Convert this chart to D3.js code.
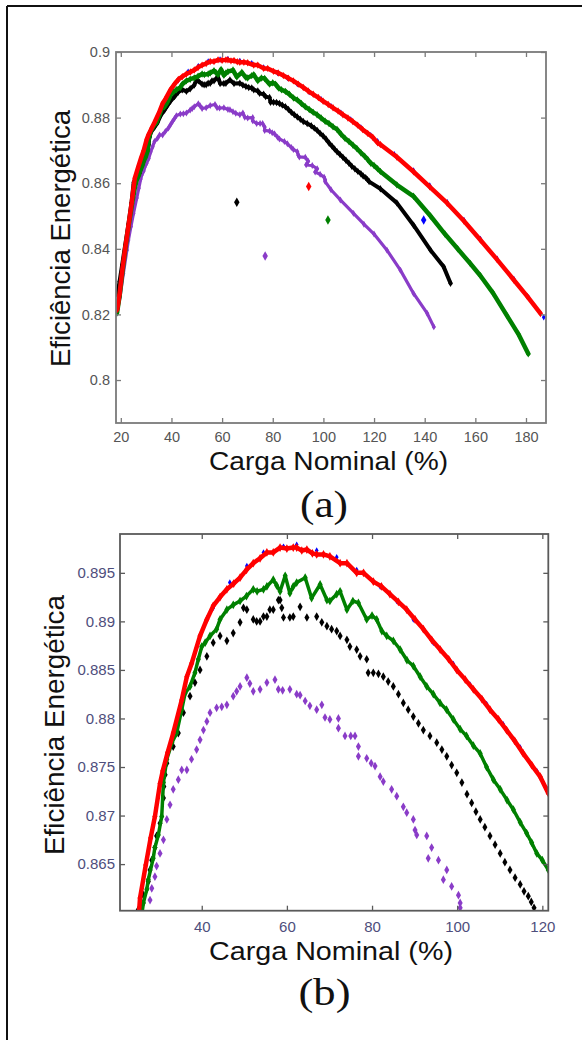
<!DOCTYPE html>
<html>
<head>
<meta charset="utf-8">
<script src="https://cdnjs.cloudflare.com/ajax/libs/d3/7.8.5/d3.min.js"></script>
<style>
  html, body { margin: 0; padding: 0; background: #fff; }
  svg { display: block; }
</style>
</head>
<body>
<script>
// load (% of nominal) and efficiency; panel (b) is a zoom of (a)
var blueData = [
  [18.6, 0.8218], [25.0, 0.8595], [31.6, 0.8752], [38.8, 0.8873], [42.7, 0.8914], [46.6, 0.8940],
  [50.6, 0.8957], [54.5, 0.8971], [59.2, 0.8977], [62.3, 0.8979], [67.0, 0.8973], [71.7, 0.8966],
  [76.4, 0.8953], [81.9, 0.8936], [85.8, 0.8921], [89.7, 0.8902], [94.4, 0.8878], [99.1, 0.8856],
  [103.0, 0.8835], [106.9, 0.8815], [110.8, 0.8794], [114.8, 0.8770], [118.7, 0.8746], [121.4, 0.8728],
  [128.0, 0.8688], [135.6, 0.8639], [142.0, 0.8593], [148.9, 0.8542], [155.5, 0.8488], [162.0, 0.8430],
  [168.6, 0.8370], [175.2, 0.8308], [181.0, 0.8252], [187.0, 0.8191]
];
var redData = [
  [18.6, 0.8215], [19.5, 0.8262], [20.5, 0.8330], [21.7, 0.8400], [23.0, 0.8470], [24.2, 0.8535],
  [25.5, 0.8615], [26.85, 0.8649], [28.0, 0.8677], [29.0, 0.8699], [30.2, 0.8733], [30.84, 0.8746],
  [32.0, 0.8765], [33.3, 0.8785], [35.3, 0.8819], [36.5, 0.8843], [37.65, 0.8857], [39.6, 0.8885],
  [41.2, 0.8902], [42.7, 0.8916], [44.3, 0.8925], [45.9, 0.8933], [47.5, 0.8939], [49.0, 0.8945],
  [50.5, 0.8953], [52.1, 0.8960], [53.7, 0.8965], [55.3, 0.8971], [56.8, 0.8971], [58.4, 0.8976],
  [60.0, 0.8975], [61.5, 0.8976], [62.3, 0.8976], [63.5, 0.8973], [64.7, 0.8974], [66.0, 0.8970],
  [67.0, 0.8969], [68.6, 0.8969], [70.1, 0.8967], [72.5, 0.8960], [74.1, 0.8960], [76.4, 0.8950],
  [78.0, 0.8950], [80.3, 0.8941], [82.2, 0.8936], [84.2, 0.8928], [86.2, 0.8920], [88.15, 0.8912],
  [90.1, 0.8902], [92.05, 0.8892], [94.0, 0.8881], [96.0, 0.8871], [98.0, 0.8861], [99.9, 0.8850],
  [101.9, 0.8840], [103.8, 0.8830], [105.8, 0.8820], [107.7, 0.8809], [109.7, 0.8799], [111.6, 0.8788],
  [113.5, 0.8777], [115.5, 0.8764], [117.5, 0.8752], [119.5, 0.8740], [121.4, 0.8723], [122.5, 0.8718],
  [129.0, 0.8680], [135.6, 0.8635], [142.0, 0.8589], [148.9, 0.8539], [155.5, 0.8485], [162.0, 0.8427],
  [168.6, 0.8367], [175.2, 0.8305], [180.5, 0.8255], [185.7, 0.8203]
];
var greenData = [
  [18.5, 0.8205], [19.5, 0.8255], [20.5, 0.8320], [21.7, 0.8395], [23.0, 0.8465], [24.3, 0.8530],
  [25.5, 0.8585], [26.3, 0.8610], [27.1, 0.8624], [27.45, 0.8634], [28.6, 0.8656], [29.0, 0.8667],
  [29.8, 0.8680], [30.6, 0.8699], [31.0, 0.8734], [31.8, 0.8758], [33.0, 0.8775], [34.1, 0.8785],
  [35.3, 0.8809], [36.1, 0.8826], [37.25, 0.8833], [38.4, 0.8847], [39.2, 0.8861], [40.0, 0.8874],
  [40.8, 0.8878], [41.95, 0.8885], [43.5, 0.8892], [44.3, 0.8902], [45.9, 0.8912], [47.4, 0.8917],
  [49.0, 0.8921], [50.5, 0.8926], [52.1, 0.8933], [53.0, 0.8931], [54.5, 0.8933], [55.3, 0.8936],
  [56.8, 0.8943], [57.6, 0.8937], [58.4, 0.8931], [59.6, 0.8947], [60.7, 0.8929], [61.5, 0.8936],
  [62.3, 0.8940], [64.3, 0.8945], [65.8, 0.8924], [67.8, 0.8938], [69.4, 0.8922], [70.1, 0.8921],
  [71.7, 0.8928], [72.5, 0.8931], [74.1, 0.8912], [75.5, 0.8921], [76.8, 0.8919], [78.75, 0.8902],
  [80.0, 0.8906], [81.1, 0.8902], [82.3, 0.8890], [83.45, 0.8885], [85.0, 0.8880], [86.6, 0.8871],
  [88.2, 0.8860], [89.7, 0.8854], [91.3, 0.8843], [92.85, 0.8833], [94.4, 0.8825], [95.97, 0.8816],
  [97.5, 0.8809], [99.1, 0.8799], [100.7, 0.8789], [102.2, 0.8782], [103.8, 0.8772], [105.4, 0.8764],
  [106.9, 0.8750], [108.5, 0.8737], [110.1, 0.8727], [111.7, 0.8716], [113.2, 0.8706], [114.8, 0.8693],
  [116.3, 0.8682], [117.5, 0.8672], [118.7, 0.8661], [120.0, 0.8654], [121.4, 0.8644], [122.5, 0.8636],
  [129.0, 0.8595], [135.6, 0.8560], [142.3, 0.8500], [148.0, 0.8445], [153.0, 0.8400], [158.0, 0.8355],
  [162.0, 0.8318], [167.0, 0.8265], [172.6, 0.8195], [177.0, 0.8140], [180.9, 0.8080]
];
var blackData = [
  [18.7, 0.8260], [19.5, 0.8300], [20.5, 0.8350], [21.7, 0.8410], [23.0, 0.8475], [24.2, 0.8540],
  [25.1, 0.8603], [25.9, 0.8610], [26.3, 0.8618], [27.45, 0.8632], [27.85, 0.8644], [28.26, 0.8654],
  [29.0, 0.8667], [29.4, 0.8679], [30.2, 0.8692], [31.0, 0.8718], [31.1, 0.8730], [31.4, 0.8742],
  [31.8, 0.8754], [33.3, 0.8771], [34.5, 0.8785], [35.7, 0.8806], [37.25, 0.8823], [38.4, 0.8837],
  [39.6, 0.8850], [41.2, 0.8864], [42.7, 0.8878], [44.3, 0.8885], [45.9, 0.8880], [47.4, 0.8888],
  [49.0, 0.8899], [49.8, 0.8914], [50.6, 0.8912], [52.1, 0.8902], [52.9, 0.8900], [53.7, 0.8900],
  [54.5, 0.8905], [55.3, 0.8905], [56.0, 0.8912], [56.8, 0.8912], [58.0, 0.8922], [58.4, 0.8922],
  [58.8, 0.8914], [59.2, 0.8904], [60.7, 0.8904], [61.5, 0.8905], [63.1, 0.8915], [64.7, 0.8904],
  [67.0, 0.8905], [68.2, 0.8899], [69.4, 0.8895], [70.5, 0.8892], [71.7, 0.8890], [72.5, 0.8885],
  [74.1, 0.8881], [74.8, 0.8874], [76.4, 0.8871], [77.2, 0.8864], [78.75, 0.8861], [79.1, 0.8847],
  [80.3, 0.8847], [81.5, 0.8846], [82.65, 0.8843], [83.8, 0.8838], [85.0, 0.8833], [86.2, 0.8825],
  [87.35, 0.8816], [88.5, 0.8809], [89.7, 0.8802], [90.9, 0.8795], [92.05, 0.8788], [93.6, 0.8782],
  [95.2, 0.8775], [96.4, 0.8768], [97.55, 0.8761], [98.7, 0.8752], [99.9, 0.8744], [101.1, 0.8734],
  [102.3, 0.8722], [103.4, 0.8713], [104.4, 0.8704], [105.4, 0.8696], [106.5, 0.8688], [107.7, 0.8679],
  [108.9, 0.8670], [110.1, 0.8661], [111.2, 0.8652], [112.4, 0.8644], [113.6, 0.8636], [114.8, 0.8629],
  [115.7, 0.8622], [116.7, 0.8617], [117.4, 0.8611], [118.05, 0.8605], [122.5, 0.8583], [129.0, 0.8540],
  [135.6, 0.8472], [142.3, 0.8396], [147.5, 0.8345], [150.2, 0.8295]
];
var purpleData = [
  [18.4, 0.8203], [19.7, 0.8254], [21.0, 0.8325], [22.4, 0.8396], [23.0, 0.8427], [24.0, 0.8468],
  [25.0, 0.8508], [26.3, 0.8555], [27.1, 0.8585], [27.85, 0.8613], [28.26, 0.8625], [29.0, 0.8637],
  [29.4, 0.8648], [30.2, 0.8661], [31.0, 0.8675], [31.8, 0.8696], [32.55, 0.8711], [33.3, 0.8727],
  [34.5, 0.8737], [35.3, 0.8747], [36.5, 0.8747], [37.6, 0.8758], [38.8, 0.8768], [39.6, 0.8778],
  [40.4, 0.8788], [41.2, 0.8797], [41.95, 0.8806], [43.5, 0.8811], [44.7, 0.8812], [45.9, 0.8814],
  [47.4, 0.8823], [48.2, 0.8828], [49.0, 0.8833], [50.6, 0.8842], [51.3, 0.8836], [52.1, 0.8828],
  [53.7, 0.8830], [55.3, 0.8837], [57.2, 0.8840], [58.0, 0.8830], [59.0, 0.8829], [60.7, 0.8830],
  [62.3, 0.8825], [63.1, 0.8824], [64.3, 0.8818], [65.4, 0.8813], [67.0, 0.8809], [68.2, 0.8814],
  [68.95, 0.8801], [70.1, 0.8799], [72.1, 0.8800], [72.1, 0.8790], [73.65, 0.8782], [75.0, 0.8782],
  [76.0, 0.8782], [76.8, 0.8771], [76.8, 0.8761], [78.75, 0.8759], [79.8, 0.8754], [80.7, 0.8751],
  [81.9, 0.8740], [82.65, 0.8735], [84.6, 0.8727], [85.8, 0.8720], [87.35, 0.8709], [88.15, 0.8703],
  [89.7, 0.8696], [90.1, 0.8685], [90.5, 0.8680], [92.85, 0.8679], [94.0, 0.8667], [93.2, 0.8656],
  [95.6, 0.8654], [97.55, 0.8644], [96.75, 0.8634], [98.7, 0.8627], [100.3, 0.8618], [100.7, 0.8610],
  [100.7, 0.8605], [103.0, 0.8580], [106.7, 0.8549], [111.9, 0.8508], [116.0, 0.8475], [120.0, 0.8445],
  [125.1, 0.8396], [130.4, 0.8335], [135.6, 0.8264], [141.0, 0.8203], [143.6, 0.8162]
];
// stray single measurements in panel (a)
var strayPoints = [
  {series: "black", x: 65.8, y: 0.8542},
  {series: "red", x: 94.2, y: 0.8590},
  {series: "purple", x: 77.0, y: 0.8378},
  {series: "green", x: 101.8, y: 0.8488},
  {series: "blue", x: 139.6, y: 0.8488}
];

var xTicksA = [20, 40, 60, 80, 100, 120, 140, 160, 180];
var yTicksA = [0.80, 0.82, 0.84, 0.86, 0.88, 0.90];
var xTicksB = [40, 60, 80, 100, 120];
var yTicksB = [0.865, 0.870, 0.875, 0.880, 0.885, 0.890, 0.895];

var xTitle = "Carga Nominal (%)";
var yTitle = "Eficiência Energética";

var colors = {blue: "#0000ff", red: "#ff0000", green: "#008000", black: "#000000", purple: "#8a3cc8"};
var seriesList = [
  {name: "blue", data: blueData},
  {name: "purple", data: purpleData},
  {name: "black", data: blackData},
  {name: "green", data: greenData},
  {name: "red", data: redData}
];

var W = 582, H = 1040;
var svg = d3.select("body").append("svg").attr("width", W).attr("height", H);

// outer frame (open on the right and bottom in the scan)
svg.append("line").attr("x1", 7).attr("y1", 6).attr("x2", W).attr("y2", 6)
  .attr("stroke", "#111").attr("stroke-width", 2);
svg.append("line").attr("x1", 7).attr("y1", 6).attr("x2", 7).attr("y2", H)
  .attr("stroke", "#111").attr("stroke-width", 2);

var fmt = d3.format("~g");

function drawPanel(p) {
  var x = d3.scaleLinear().domain(p.xDomain).range([p.left, p.right]);
  var y = d3.scaleLinear().domain(p.yDomain).range([p.bottom, p.top]);
  var g = svg.append("g");

  g.append("clipPath").attr("id", p.id + "-clip")
    .append("rect").attr("x", p.left).attr("y", p.top)
    .attr("width", p.right - p.left).attr("height", p.bottom - p.top);

  var plot = g.append("g").attr("clip-path", "url(#" + p.id + "-clip)");
  var line = d3.line().x(function (d) { return x(d[0]); }).y(function (d) { return y(d[1]); });

  seriesList.forEach(function (s) {
    var st = p.style[s.name];
    if (st.line > 0) {
      plot.append("path").datum(s.data)
        .attr("d", line)
        .attr("fill", "none")
        .attr("stroke", colors[s.name])
        .attr("stroke-width", st.line)
        .attr("stroke-linejoin", "round")
        .attr("stroke-linecap", "round");
    }
    plot.selectAll(null).data(s.data).enter().append("path")
      .attr("d", d3.symbol().type(d3.symbolDiamond).size(st.marker))
      .attr("transform", function (d) { return "translate(" + x(d[0]) + "," + y(d[1]) + ")"; })
      .attr("fill", colors[s.name]);
  });

  if (p.strays) {
    plot.selectAll(null).data(strayPoints).enter().append("path")
      .attr("d", d3.symbol().type(d3.symbolDiamond).size(26))
      .attr("transform", function (d) { return "translate(" + x(d.x) + "," + y(d.y) + ")"; })
      .attr("fill", function (d) { return colors[d.series]; });
  }

  // axes, MATLAB style: ticks pointing inwards on all four sides
  var axB = g.append("g").attr("transform", "translate(0," + p.bottom + ")")
    .call(d3.axisBottom(x).tickValues(p.xTicks).tickFormat(fmt).tickSize(-5).tickPadding(p.xPad));
  var axT = g.append("g").attr("transform", "translate(0," + p.top + ")")
    .call(d3.axisTop(x).tickValues(p.xTicks).tickFormat("").tickSize(-5));
  var axL = g.append("g").attr("transform", "translate(" + p.left + ",0)")
    .call(d3.axisLeft(y).tickValues(p.yTicks).tickFormat(fmt).tickSize(-5).tickPadding(p.yPad));
  var axR = g.append("g").attr("transform", "translate(" + p.right + ",0)")
    .call(d3.axisRight(y).tickValues(p.yTicks).tickFormat("").tickSize(-5));

  [axB, axT, axL, axR].forEach(function (a) {
    a.select(".domain").remove();
    a.selectAll("line").attr("stroke", p.boxColor).attr("stroke-width", 1.3);
    a.selectAll("text").attr("fill", p.tickColor)
      .style("font-family", "'Liberation Sans', Arial, sans-serif")
      .style("font-size", p.tickFont + "px");
  });

  g.append("rect").attr("x", p.left).attr("y", p.top)
    .attr("width", p.right - p.left).attr("height", p.bottom - p.top)
    .attr("fill", "none").attr("stroke", p.boxColor).attr("stroke-width", 1.8);

  g.append("text").text(xTitle)
    .attr("x", p.xTitle[0]).attr("y", p.xTitle[1])
    .attr("text-anchor", "middle")
    .attr("textLength", p.xTitle[2]).attr("lengthAdjust", "spacingAndGlyphs")
    .style("font-family", "'Liberation Sans', Arial, sans-serif")
    .style("font-size", "25px").attr("fill", "#111");

  g.append("text").text(yTitle)
    .attr("transform", "translate(" + p.yTitle[0] + "," + p.yTitle[1] + ") rotate(-90)")
    .attr("text-anchor", "middle")
    .attr("textLength", p.yTitle[2]).attr("lengthAdjust", "spacingAndGlyphs")
    .style("font-family", "'Liberation Sans', Arial, sans-serif")
    .style("font-size", "27px").attr("fill", "#111");

  g.append("text").text(p.caption)
    .attr("x", p.captionPos[0]).attr("y", p.captionPos[1])
    .attr("text-anchor", "middle")
    .attr("textLength", p.captionPos[2]).attr("lengthAdjust", "spacingAndGlyphs")
    .style("font-family", "'Liberation Serif', 'Times New Roman', serif")
    .style("font-size", "38px").attr("fill", "#111");
}

drawPanel({
  id: "pa",
  left: 116, right: 546, top: 52, bottom: 423,
  xDomain: [18.1, 187.9], yDomain: [0.7869, 0.9],
  xTicks: xTicksA, yTicks: yTicksA,
  xPad: 9, yPad: 6, tickFont: 14.5, tickColor: "#555", boxColor: "#7a7a7a",
  style: {
    blue: {line: 0, marker: 12}, red: {line: 4.5, marker: 16}, green: {line: 4.5, marker: 16},
    black: {line: 4, marker: 16}, purple: {line: 3.2, marker: 14}
  },
  strays: true,
  xTitle: [328.5, 470, 239], yTitle: [70, 238.5, 257],
  caption: "(a)", captionPos: [324, 517, 48]
});

drawPanel({
  id: "pb",
  left: 120, right: 548.3, top: 534, bottom: 910.7,
  xDomain: [20.8, 121.4], yDomain: [0.8602, 0.8990],
  xTicks: xTicksB, yTicks: yTicksB,
  xPad: 11, yPad: 5, tickFont: 15, tickColor: "#4e4e7c", boxColor: "#5a5a5a",
  style: {
    blue: {line: 0, marker: 12}, red: {line: 4.5, marker: 22}, green: {line: 3.5, marker: 22},
    black: {line: 0, marker: 22}, purple: {line: 0, marker: 22}
  },
  strays: false,
  xTitle: [331, 960, 244], yTitle: [63.5, 725, 260],
  caption: "(b)", captionPos: [324.5, 1005, 52]
});
</script>
</body>
</html>
